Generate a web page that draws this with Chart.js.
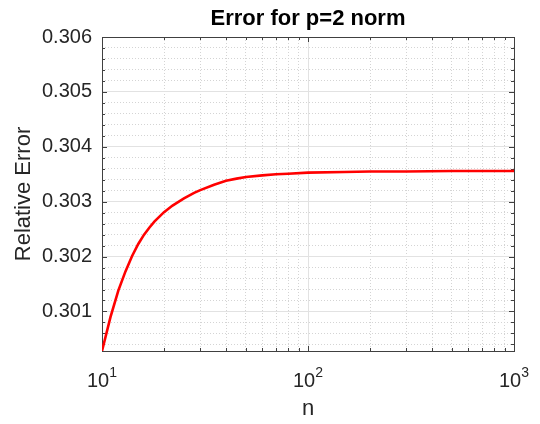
<!DOCTYPE html>
<html lang="en">
<head>
<meta charset="UTF-8">
<title>Error for p=2 norm</title>
<script src="https://cdn.jsdelivr.net/npm/chart.js"></script>
<style>
  html, body { margin: 0; padding: 0; background: #fff; }
  #wrap { width: 540px; height: 424px; }
</style>
</head>
<body>
<div id="wrap"><canvas id="errChart" width="540" height="424"></canvas></div>
<script>
// Values
const nValues = [10, 11, 12, 13, 14, 15, 16, 17, 18, 20, 22, 25, 28, 30, 35, 40, 45, 50, 60, 70, 80, 100, 150, 200, 300, 500, 1000];
const relError = [0.30028, 0.30090, 0.30138, 0.30173, 0.30201, 0.30223, 0.30240, 0.30253, 0.30264, 0.30281, 0.30293, 0.30306,
  0.30316, 0.30321, 0.30331, 0.30338, 0.30342, 0.30345, 0.30348, 0.30350, 0.30351, 0.30353, 0.30354, 0.30355, 0.30355, 0.30356, 0.30356];

// Axis ticks (x labels drawn as 10 with a raised exponent)
const xMajorTicks = [10, 100, 1000];
const xTickExponents = ["1", "2", "3"];
const yMajorTicks = [0.301, 0.302, 0.303, 0.304, 0.305, 0.306];
const yMin = 0.30028;
const yMax = 0.306;
const chartTitle = "Error for p=2 norm";

const textColor = "#262626";
const axisColor = "#404040";
const fontFamily = "'Liberation Sans', Arial, Helvetica, sans-serif";

// minor ticks: 2..9 per decade on x, every 0.0002 on y
const xTickValues = [];
[10, 100].forEach((d) => {
  for (let k = 1; k <= 9; k++) xTickValues.push(k * d);
});
xTickValues.push(1000);

const yTickValues = [];
for (let i = 1502; i <= 1530; i++) yTickValues.push(i / 5000);

const isMajorX = (v) => xMajorTicks.some((m) => Math.abs(m - v) < 1e-9);
const isMajorY = (v) => yMajorTicks.some((m) => Math.abs(m - v) < 1e-9);

// box with inward tick marks, power-of-ten labels and title over the axes (MATLAB style)
const axesBox = {
  id: "axesBox",
  beforeDatasetsDraw(chart) {
    const { ctx, chartArea: a, scales } = chart;
    const x = scales.x;
    const y = scales.y;
    ctx.save();
    ctx.strokeStyle = axisColor;
    ctx.lineWidth = 1;
    ctx.beginPath();
    x.ticks.forEach((t) => {
      const px = Math.round(x.getPixelForValue(t.value)) + 0.5;
      const len = isMajorX(t.value) ? 5 : 3;
      ctx.moveTo(px, a.bottom);
      ctx.lineTo(px, a.bottom - len);
      ctx.moveTo(px, a.top);
      ctx.lineTo(px, a.top + len);
    });
    y.ticks.forEach((t) => {
      const py = Math.round(y.getPixelForValue(t.value)) + 0.5;
      const len = isMajorY(t.value) ? 5 : 3;
      ctx.moveTo(a.left, py);
      ctx.lineTo(a.left + len, py);
      ctx.moveTo(a.right, py);
      ctx.lineTo(a.right - len, py);
    });
    ctx.stroke();
    ctx.strokeRect(Math.round(a.left) + 0.5, Math.round(a.top) + 0.5,
      Math.round(a.right - a.left), Math.round(a.bottom - a.top));
    ctx.restore();
  },
  afterDraw(chart) {
    const { ctx, chartArea: a, scales } = chart;
    ctx.save();
    ctx.fillStyle = "#000";
    ctx.font = "bold 22px " + fontFamily;
    ctx.textAlign = "center";
    ctx.textBaseline = "middle";
    ctx.fillText(chartTitle, (a.left + a.right) / 2, 19);

    ctx.fillStyle = textColor;
    ctx.textAlign = "left";
    ctx.textBaseline = "alphabetic";
    xMajorTicks.forEach((v, i) => {
      const px = scales.x.getPixelForValue(v);
      ctx.font = "20px " + fontFamily;
      const wb = ctx.measureText("10").width;
      ctx.font = "14px " + fontFamily;
      const we = ctx.measureText(xTickExponents[i]).width;
      const x0 = px - (wb + we) / 2;
      ctx.font = "20px " + fontFamily;
      ctx.fillText("10", x0, a.bottom + 36);
      ctx.font = "14px " + fontFamily;
      ctx.fillText(xTickExponents[i], x0 + wb, a.bottom + 26);
    });
    ctx.restore();
  },
};

new Chart(document.getElementById("errChart"), {
  type: "line",
  data: {
    datasets: [{
      label: "Relative Error",
      data: nValues.map((n, i) => ({ x: n, y: relError[i] })),
      borderColor: "#ff0000",
      borderWidth: 2.6,
      pointRadius: 0,
      tension: 0,
      fill: false,
    }],
  },
  options: {
    responsive: false,
    animation: false,
    devicePixelRatio: 1,
    layout: { padding: { left: 0, right: 26, top: 37, bottom: 0 } },
    plugins: {
      legend: { display: false },
      tooltip: { enabled: false },
      title: { display: false },
    },
    scales: {
      x: {
        type: "logarithmic",
        min: 10,
        max: 1000,
        afterBuildTicks: (s) => { s.ticks = xTickValues.map((v) => ({ value: v })); },
        afterFit: (s) => {
          s.height = 73;
          s.paddingLeft = 0;
          s.paddingRight = 0;
        },
        ticks: {
          autoSkip: false,
          maxRotation: 0,
          padding: 17,
          color: textColor,
          font: { family: fontFamily, size: 20 },
          callback: () => "",
        },
        grid: {
          drawTicks: false,
          lineWidth: 1,
          color: (c) => (isMajorX(c.tick.value) ? "#e2e2e2" : "#d4d4d4"),
        },
        border: {
          display: false,
          dash: (c) => (c.tick && isMajorX(c.tick.value) ? [] : [1, 2]),
        },
        title: {
          display: true,
          text: "n",
          color: textColor,
          font: { family: fontFamily, size: 22 },
          padding: { top: 0, bottom: 2 },
        },
      },
      y: {
        type: "linear",
        min: yMin,
        max: yMax,
        afterBuildTicks: (s) => { s.ticks = yTickValues.map((v) => ({ value: v })); },
        afterFit: (s) => { s.width = 102; },
        ticks: {
          autoSkip: false,
          padding: 10,
          color: textColor,
          font: { family: fontFamily, size: 20 },
          callback: (v) => (isMajorY(v) ? v.toFixed(3) : ""),
        },
        grid: {
          drawTicks: false,
          lineWidth: 1,
          color: (c) => (isMajorY(c.tick.value) ? "#e2e2e2" : "#d4d4d4"),
        },
        border: {
          display: false,
          dash: (c) => (c.tick && isMajorY(c.tick.value) ? [] : [1, 2]),
        },
        title: {
          display: true,
          text: "Relative Error",
          color: textColor,
          font: { family: fontFamily, size: 22 },
          padding: { top: 11, bottom: 0 },
        },
      },
    },
  },
  plugins: [axesBox],
});
</script>
</body>
</html>
